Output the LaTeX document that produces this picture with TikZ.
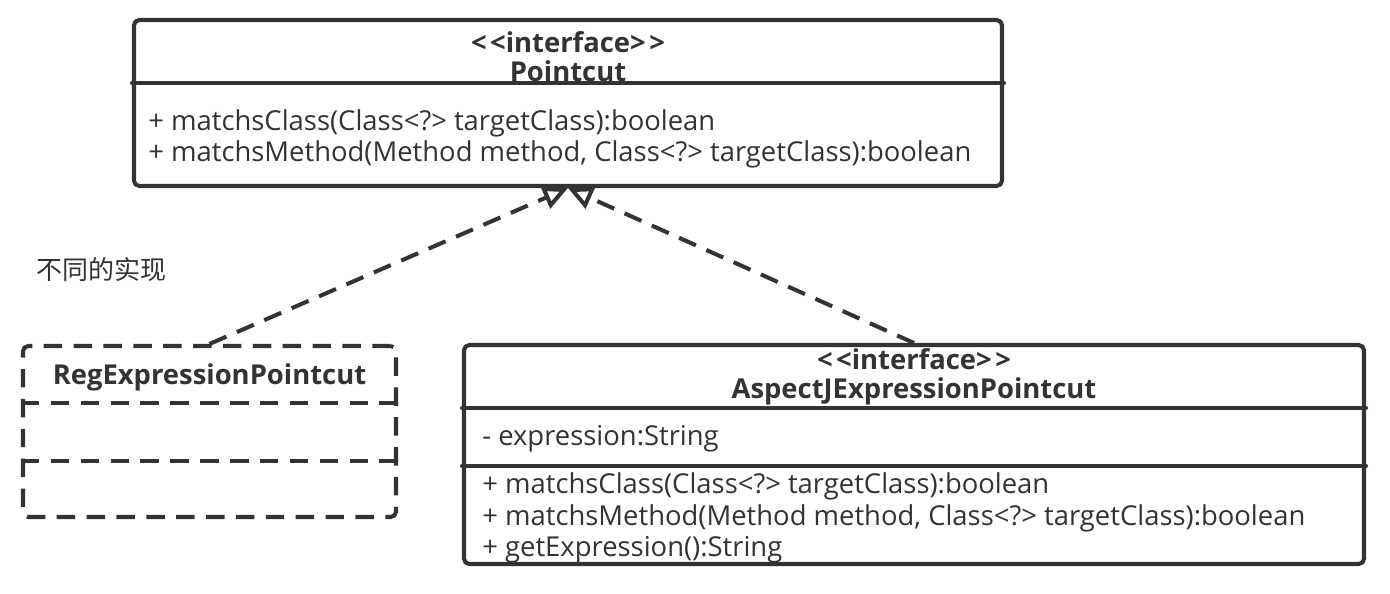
\documentclass[tikz,border=0pt]{standalone}
\usepackage{fontspec}
\setmainfont{Open Sans}
\newfontfamily\cjk{Noto Sans CJK SC}
\usetikzlibrary{positioning,calc,arrows.meta}
\definecolor{UmlInk}{HTML}{333333}

\begin{document}
\begin{tikzpicture}[x=0.02cm,y=-0.02cm,line cap=round,line join=round,
    font=\fontsize{15.6}{17.5}\selectfont,text=UmlInk,
    umlbox/.style={draw=UmlInk,line width=2.3pt,rounded corners=3pt,inner sep=0pt},
    umldash/.style={line cap=butt,dash pattern=on 10.5pt off 6.5pt},
    umlsplit/.style={draw=UmlInk,line width=2.3pt},
    umltitle/.style={font=\bfseries\fontsize{15.6}{16.5}\selectfont,align=center,inner sep=0pt},
    umlmembers/.style={align=left,anchor=west,inner sep=0pt,font=\fontsize{15.6}{17.8}\selectfont},
    realize/.style={draw=UmlInk,line width=2.3pt,umldash,-{Triangle[open,length=14pt,width=13pt]}}]
  \useasboundingbox (0,0) rectangle (1390,593);
  % interface Pointcut
  \node[umlbox,minimum width=868*0.02cm,minimum height=166*0.02cm] (pointcut) at (568,103) {};
  \draw[umlsplit] ($(pointcut.north west)+(0,65)$) -- ($(pointcut.north east)+(0,65)$);
  \node[umltitle] (pointcuttitle) at (568,57) {<\kern2pt<interface>\kern2pt>\\Pointcut};
  \node[umlmembers] (pointcutops) at (148,139) {+ matchsClass(Class<?> targetClass):boolean\\+ matchsMethod(Method method, Class<?> targetClass):boolean};
  % RegExpressionPointcut, dashed
  \node[umlbox,umldash,minimum width=373*0.02cm,minimum height=171*0.02cm] (regexp) at (209.5,431.5) {};
  \draw[umlsplit,umldash] ($(regexp.north west)+(0,59)$) -- ($(regexp.north east)+(0,59)$);
  \draw[umlsplit,umldash] ($(regexp.north west)+(0,117)$) -- ($(regexp.north east)+(0,117)$);
  \node[umltitle] (regexptitle) at (209.5,377) {RegExpressionPointcut};
  % AspectJExpressionPointcut
  \node[umlbox,minimum width=900*0.02cm,minimum height=219*0.02cm] (aspectj) at (914,454.5) {};
  \draw[umlsplit] ($(aspectj.north west)+(0,65)$) -- ($(aspectj.north east)+(0,65)$);
  \draw[umlsplit] ($(aspectj.north west)+(0,123)$) -- ($(aspectj.north east)+(0,123)$);
  \node[umltitle] (aspectjtitle) at (914,377) {<\kern2pt<interface>\kern2pt>\\AspectJExpressionPointcut};
  \node[umlmembers] (aspectjattr) at (482,439) {- expression:String};
  \node[umlmembers] (aspectjops) at (482,518) {+ matchsClass(Class<?> targetClass):boolean\\+ matchsMethod(Method method, Class<?> targetClass):boolean\\+ getExpression():String};
  \node[anchor=west,inner sep=0pt,font=\cjk\fontsize{14.8}{17.5}\selectfont] (note) at (36,270) {不同的实现};
  % realizations
  \draw[realize] (regexp.north) -- (pointcut.south);
  \draw[realize] (aspectj.north) -- (pointcut.south);
\end{tikzpicture}
\end{document}
